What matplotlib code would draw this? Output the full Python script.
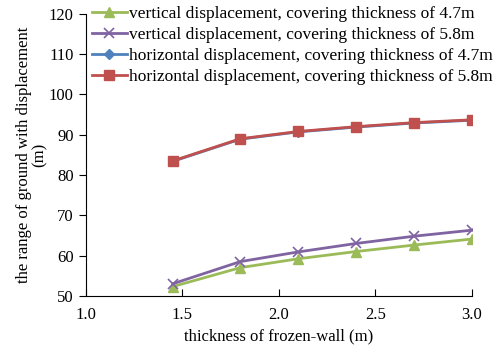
import numpy as np
import matplotlib
matplotlib.use('Agg')
import matplotlib.pyplot as plt

plt.rcParams['font.family'] = ['Liberation Serif', 'DejaVu Serif']

# thickness of frozen-wall (m)
thick = [1.45, 1.8, 2.1, 2.4, 2.7, 3.0]

# range of ground with displacement (m)
vert_47 = [52.3, 57.0, 59.2, 61.0, 62.6, 64.1]
vert_58 = [53.0, 58.5, 60.9, 63.0, 64.8, 66.3]
horiz_47 = [83.4, 88.9, 90.7, 91.9, 92.9, 93.6]
horiz_58 = [83.5, 89.0, 90.8, 92.0, 93.0, 93.7]

labels = ['vertical displacement, covering thickness of 4.7m',
          'vertical displacement, covering thickness of 5.8m',
          'horizontal displacement, covering thickness of 4.7m',
          'horizontal displacement, covering thickness of 5.8m']

fig = plt.figure(figsize=(5.03, 3.56), dpi=100)
ax = fig.add_axes([0.171, 0.169, 0.767, 0.792])

ax.plot(thick, vert_47, color='#9BBB59', marker='^', ms=7, lw=2, label=labels[0])
ax.plot(thick, vert_58, color='#8064A2', marker='x', ms=7, mew=1.2, lw=2, label=labels[1])
ax.plot(thick, horiz_47, color='#4F81BD', marker='D', ms=5, lw=2, label=labels[2])
ax.plot(thick, horiz_58, color='#C0504D', marker='s', ms=7, lw=2, label=labels[3])

ax.set_xlim(1.0, 3.0)
ax.set_ylim(50, 120)
ax.set_xticks(np.arange(1.0, 3.01, 0.5))
ax.set_yticks(np.arange(50, 121, 10))
ax.xaxis.set_major_formatter(matplotlib.ticker.FormatStrFormatter('%.1f'))
ax.tick_params(axis='x', direction='in', length=5, labelsize=12, pad=8)
ax.tick_params(axis='y', direction='out', length=5, labelsize=12, pad=4)
ax.spines['top'].set_visible(False)
ax.spines['right'].set_visible(False)

ax.set_xlabel('thickness of frozen-wall (m)', fontsize=12, labelpad=4)
ax.set_ylabel('the range of ground with displacement\n(m)', fontsize=12, linespacing=1.0, labelpad=0.5)

ax.legend(loc='upper left', bbox_to_anchor=(0.183, 0.984), bbox_transform=fig.transFigure,
          frameon=False, fontsize=12.5, handlelength=2.0, handletextpad=0.15,
          labelspacing=0.28, borderaxespad=0, borderpad=0)

fig.savefig('out.png', dpi=100)
